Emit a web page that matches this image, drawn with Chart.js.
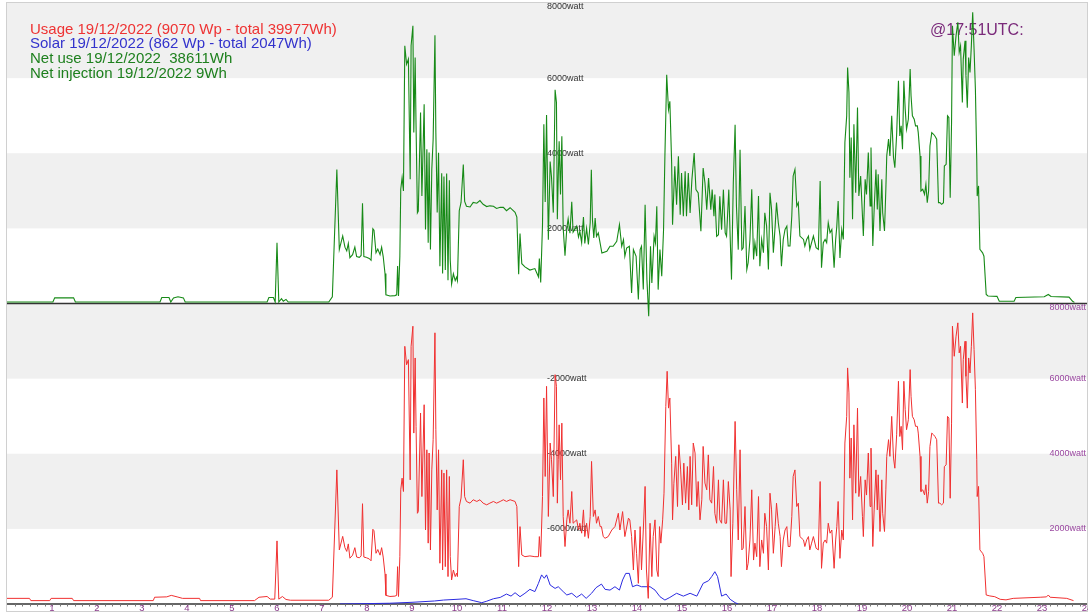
<!DOCTYPE html>
<html>
<head>
<meta charset="utf-8">
<title>Energy 19/12/2022</title>
<style>
  html, body { margin: 0; padding: 0; background: #fff; }
  canvas { display: block; }
</style>
<script src="https://cdn.jsdelivr.net/npm/chart.js@4.4.0/dist/chart.umd.min.js"></script>
</head>
<body>
<canvas id="energy" width="1092" height="616"></canvas>
<script>
// --- readings (hour of day, watt) ---

// night: only standby load
const nightUseHours = [0, 0.5, 0.53, 0.95, 0.98, 1.45, 1.48, 3.25, 3.28, 3.55, 3.65, 3.78, 3.9, 4.28, 4.3,
  5.5, 5.6, 5.78, 5.85, 5.95, 6.0, 6.04, 6.12, 6.2, 6.3, 7.15]
const nightUse = [150, 150, 90, 90, 150, 150, 90, 90, 180, 190, 230, 190, 150, 150, 90,
  90, 180, 200, 130, 130, 1680, 130, 200, 120, 100, 100]
const nightNetHours = [0, 1.02, 1.06, 1.48, 1.52, 3.4, 3.44, 3.6, 3.64, 3.7, 3.8, 3.92, 3.96,
  5.78, 5.82, 5.92, 5.96, 6.0, 6.04, 6.1, 6.14, 6.2, 6.25, 7.15]
const nightNet = [40, 40, 150, 150, 40, 40, 160, 160, 40, 150, 180, 150, 40,
  40, 160, 160, 40, 1620, 40, 130, 60, 110, 40, 40]

// morning, no sun yet: usage and net use are the same
const morningHours = [7.23, 7.33, 7.385, 7.46, 7.51, 7.55, 7.585, 7.62, 7.68, 7.73, 7.77, 7.83, 7.87, 7.9, 7.93,
  7.99, 8.05, 8.09, 8.13, 8.155, 8.2, 8.24, 8.29, 8.325, 8.36, 8.4, 8.42, 8.51, 8.62, 8.66,
  8.68, 8.7, 8.73, 8.75, 8.78, 8.81, 8.84, 8.88, 8.92, 8.96, 8.98, 9.02, 9.04, 9.07, 9.09,
  9.12, 9.14, 9.19, 9.22, 9.27, 9.3, 9.33, 9.36, 9.38, 9.41, 9.44, 9.47]
const morningWatts = [180, 3570, 1440, 1800, 1500, 1400, 1600, 1220, 1300, 1500, 1250, 1230, 1280, 2670, 1250,
  1230, 1200, 1150, 1990, 1950, 1350, 1450, 1300, 1500, 1250, 800, 230, 200, 210, 230,
  995, 200, 1260, 3040, 3350, 2995, 6860, 6370, 6505, 3305, 6860, 7395, 4550, 6550, 4730,
  2415, 2460, 5085, 2860, 5305, 1970, 4105, 1620, 4020, 1440, 3570, 4375]

// late morning / noon
const dayHours = [9.51, 9.53, 9.56, 9.59, 9.62, 9.66, 9.68, 9.71, 9.74, 9.77, 9.8, 9.83, 9.85, 9.88, 9.92, 9.96, 9.99,
  10.01, 10.05, 10.09, 10.14, 10.17, 10.21, 10.29, 10.36, 10.44, 10.51, 10.58, 10.66, 10.73, 10.81, 10.88, 10.96,
  11.03, 11.1, 11.18, 11.29, 11.33, 11.37, 11.4, 11.44, 11.51, 11.62, 11.73, 11.81, 11.83, 11.86,
  11.9, 11.93, 11.96, 11.99,
  12.03, 12.07, 12.1, 12.14, 12.18, 12.21, 12.23, 12.25, 12.27, 12.3, 12.33, 12.36, 12.4, 12.44, 12.47, 12.51,
  12.55, 12.58, 12.66, 12.7, 12.73, 12.77, 12.81, 12.84, 12.88, 12.92]
const dayUse = [7220, 4640, 2505, 4105, 1085, 3570, 905, 3485, 995, 3570, 730, 3395, 1260, 640, 905, 730, 820,
  730, 2595, 2820, 3840, 2860, 2730, 2685, 2775, 2730, 2775, 2685, 2640, 2685, 2730, 2685, 2730,
  2775, 2730, 2775, 2730, 2595, 995, 2060, 1305, 1260, 1280, 1260, 1260, 1795, 1260,
  2860, 5485, 3395, 5795,
  2330, 4285, 3840, 2860, 6105, 5795, 2685, 3840, 4770, 3305, 4815, 2330, 1530, 2240, 2505, 2150,
  2995, 2150, 2240, 1970, 2150, 1885, 2505, 1795, 2150, 1750]
const dayNet = [7140, 4560, 2420, 4010, 990, 3470, 800, 3380, 890, 3460, 620, 3280, 1150, 520, 790, 610, 700,
  610, 2470, 2690, 3700, 2720, 2590, 2570, 2690, 2670, 2740, 2640, 2580, 2600, 2590, 2530, 2560,
  2560, 2470, 2550, 2430, 2300, 780, 1860, 1060, 975, 890, 930, 710, 1200, 560,
  2090, 4770, 2700, 5020,
  1700, 3780, 3370, 2420, 5690, 5350, 2240, 3380, 4320, 2900, 4450, 2000, 1270, 2000, 2250, 1870,
  2710, 1900, 2060, 1770, 1920, 1620, 2300, 1600, 2000, 1570]

// afternoon
const afternoonUseHours = [12.96, 12.99, 13.03, 13.07, 13.1, 13.14, 13.18, 13.21, 13.25, 13.29,
  13.36, 13.44, 13.51, 13.585, 13.62, 13.68, 13.73, 13.81, 13.84, 13.88, 13.92, 13.955, 13.99,
  14.03, 14.07, 14.1, 14.14, 14.18, 14.21, 14.25, 14.29, 14.33, 14.36, 14.4, 14.44, 14.47, 14.5,
  14.53, 14.57, 14.6, 14.64, 14.67, 14.7, 14.73, 14.77, 14.79, 14.82, 14.86, 14.9, 14.93, 14.97,
  15.01, 15.04, 15.08, 15.12, 15.15,
  15.18, 15.215, 15.25, 15.29, 15.33, 15.36, 15.4, 15.44, 15.47, 15.51, 15.55, 15.585, 15.62, 15.66,
  15.7, 15.73, 15.77, 15.81, 15.84, 15.88, 15.92, 15.956, 15.99, 16.03, 16.07, 16.09, 16.13, 16.18,
  16.215, 16.25, 16.29, 16.33]
const afternoonUse = [2330, 3795, 2330, 2505, 2150, 2330, 2060, 2060, 1795, 1750,
  1795, 1970, 2060, 2415, 1970, 2460, 1795, 2285, 2240, 1795, 905, 1970, 1350,
  550, 2060, 905, 1970, 3130, 905, 150, 2150, 730, 1795, 2240, 905, 730, 2060,
  1620, 2240, 2950, 5260, 6195, 5215, 5485, 3750, 2240, 3215, 3930, 2595, 4240, 3570,
  2640, 3750, 2685, 3660, 2505,
  3930, 2640, 4285, 4020, 2595, 3260, 2240, 2775, 4195, 3220, 3040, 3970, 2775, 2685,
  3660, 2415, 2150, 3305, 2240, 2150, 3305, 2150, 2150, 3260, 2505, 730, 2150, 4860,
  3040, 1705, 4105, 1440]
const afternoonNetHours = [12.96, 12.985, 13.01, 13.04, 13.07, 13.1, 13.14, 13.22, 13.33, 13.4,
  13.47, 13.55, 13.61, 13.66, 13.7, 13.73, 13.77, 13.83, 13.88, 13.92,
  13.98, 14.03, 14.07, 14.1, 14.14, 14.18, 14.22, 14.26, 14.3, 14.33,
  14.38, 14.41, 14.44, 14.47, 14.51, 14.55, 14.59, 14.62, 14.66, 14.7,
  14.73, 14.77, 14.79, 14.84, 14.88, 14.92, 14.96, 14.99, 15.03, 15.07,
  15.1, 15.14, 15.18, 15.22, 15.27, 15.31, 15.36, 15.42, 15.47, 15.51,
  15.55, 15.59, 15.64, 15.67, 15.71, 15.73, 15.77, 15.81, 15.84, 15.88,
  15.92, 15.96, 15.99, 16.04, 16.07, 16.1, 16.14, 16.18, 16.21, 16.25,
  16.29, 16.33]
const afternoonNet = [2150, 3560, 2230, 1745, 2277, 1789, 1878, 1345, 1390, 1523,
  1523, 1656, 2100, 1523, 1700, 1257, 1478, 1523, 281, 1434,
  1257, 104, 1434, 1523, 370, 2631, 636, -340, 1523, 547,
  1789, 1611, 2587, 370, 1434, 725, 1966, 3918, 6091, 5160,
  5381, 3740, 2100, 3651, 2631, 3918, 2365, 3474, 2321, 3518,
  2321, 3474, 2410, 3297, 4006, 3031, 2942, 1922, 3607, 3208,
  2498, 3341, 2498, 3031, 2321, 2898, 1789, 1833, 2853, 1966,
  3031, 1878, 1789, 3031, 1789, 636, 3208, 4760, 2587, 1434,
  4095, 1434]

// evening, sun gone: usage and net use are the same again
const eveningHours = [16.36, 16.4, 16.44, 16.47, 16.51, 16.55, 16.59, 16.62, 16.66, 16.7, 16.73, 16.77, 16.81,
  16.84, 16.88, 16.92, 16.955, 16.99,
  17.03, 17.07, 17.1, 17.14, 17.18, 17.21, 17.25, 17.29, 17.33, 17.36, 17.4, 17.44, 17.47, 17.51, 17.55,
  17.585, 17.62, 17.7, 17.73, 17.77, 17.81, 17.84, 17.88, 17.92, 17.98,
  18.03, 18.07, 18.1, 18.14, 18.18, 18.215, 18.25, 18.29, 18.33, 18.38, 18.415, 18.44, 18.47, 18.51,
  18.55, 18.585, 18.62, 18.66, 18.68, 18.71, 18.73, 18.76, 18.79, 18.82, 18.86, 18.9, 18.93, 18.97,
  19.01, 19.03, 19.07, 19.1, 19.14, 19.18, 19.2, 19.24, 19.27, 19.31, 19.34, 19.36, 19.4, 19.44, 19.46,
  19.5, 19.53, 19.55, 19.59, 19.62, 19.66, 19.7, 19.73, 19.77, 19.81, 19.84, 19.87, 19.9, 19.93, 19.96, 19.99,
  20.03, 20.07, 20.09, 20.12, 20.16, 20.19, 20.23, 20.25, 20.29, 20.31, 20.35, 20.39, 20.42, 20.45, 20.48,
  20.51, 20.55, 20.59, 20.62, 20.66, 20.7, 20.73, 20.77, 20.81, 20.83, 20.87, 20.9, 20.93, 20.96, 20.99,
  21.01, 21.05, 21.09, 21.13, 21.16, 21.19, 21.23, 21.25, 21.29, 21.31, 21.34, 21.37, 21.4, 21.43, 21.46,
  21.49, 21.52, 21.55, 21.56, 21.59, 21.62, 21.68, 21.71]
const eveningWatts = [1485, 2595, 905, 1085, 1705, 3040, 1170, 1620, 1260, 2860, 995, 1705, 1350,
  2415, 2060, 905, 2950, 2505,
  1350, 2060, 2685, 2150, 1795, 995, 1705, 1970, 2060, 1530, 1530, 2330, 3395, 3570, 2595,
  2685, 1795, 1705, 1530, 1705, 1795, 1440, 1620, 1795, 1485,
  1440, 3260, 950, 1620, 1705, 1620, 2150, 1885, 1970, 950, 1705, 2060, 2730, 1215,
  1970, 1705, 4285, 4995, 6285, 5620, 3350, 4420, 2240, 4770, 2950, 5215, 2860, 3395,
  2330, 1795, 3305, 2900, 4020, 2595, 4150, 1530, 2505, 3570, 2505, 3440, 1930, 3305, 2415,
  1930, 3040, 3930, 4375, 3930, 4995, 3885, 3615, 4505, 5930, 4460, 4730, 4105, 5930, 5175, 4640,
  4905, 6240, 5530, 4995, 4905, 4730, 4730, 4550, 3930, 2995, 3040, 2905, 3175, 2685, 2995,
  4195, 4550, 4505, 4460, 4375, 2685, 2685, 2640, 2685, 3660, 3705, 4995, 4950, 2815, 4815,
  7395, 6595, 7130, 7485, 6685, 6860, 5350, 6505, 6995, 6060, 5215, 6550, 6150, 6860, 7750,
  6775, 5705, 3840, 2860, 3130, 1440, 1350, 1260]

// late evening
const lateUseHours = [21.76, 21.84, 21.95, 22.07, 22.2, 22.36, 22.96, 23.1, 23.14, 23.18, 23.55, 23.7]
const lateUse = [240, 215, 195, 125, 110, 150, 180, 190, 240, 180, 150, 90]
const lateNetHours = [21.76, 21.8, 22.0, 22.05, 22.38, 22.42, 23.05, 23.14, 23.2, 23.6, 23.68, 23.72]
const lateNet = [240, 200, 190, 60, 60, 160, 180, 240, 185, 170, 60, 30]

// solar production
const solarHours = [7.4, 8.0, 8.5, 9.0, 9.5, 9.7, 10.0, 10.2, 10.36, 10.55, 10.65, 10.81, 10.96, 11.1, 11.2,
  11.29, 11.4, 11.51, 11.62, 11.73, 11.81, 11.88, 11.94, 11.99, 12.07, 12.18, 12.25, 12.36, 12.44, 12.55,
  12.66, 12.77, 12.87, 12.99, 13.09, 13.21, 13.29, 13.4, 13.51, 13.61, 13.68, 13.75, 13.83, 13.9, 14.0,
  14.1, 14.29, 14.4, 14.51, 14.62, 14.73, 14.88, 15.03, 15.18, 15.33, 15.47, 15.59, 15.66, 15.73, 15.79,
  15.83, 15.88, 15.98, 16.07, 16.18, 16.25]
const solar = [0, 10, 20, 45, 80, 105, 125, 140, 90, 35, 70, 140, 175, 265, 210,
  300, 195, 285, 390, 330, 550, 775, 685, 775, 505, 415, 460, 330, 240, 285,
  175, 265, 150, 285, 435, 530, 390, 370, 460, 370, 640, 815, 815, 460, 505,
  460, 460, 370, 195, 105, 175, 285, 210, 285, 210, 550, 620, 730, 860, 730,
  505, 210, 265, 125, 35, 0]

const useHours = [...nightUseHours, ...morningHours, ...dayHours, ...afternoonUseHours, ...eveningHours, ...lateUseHours]
const usage = [...nightUse, ...morningWatts, ...dayUse, ...afternoonUse, ...eveningWatts, ...lateUse]
const netHours = [...nightNetHours, ...morningHours, ...dayHours, ...afternoonNetHours, ...eveningHours, ...lateNetHours]
const netUse = [...nightNet, ...morningWatts, ...dayNet, ...afternoonNet, ...eveningWatts, ...lateNet]

// --- axes and texts ---
const hourLabels = ['1', '2', '3', '4', '5', '6', '7', '8', '9', '10', '11', '12',
  '13', '14', '15', '16', '17', '18', '19', '20', '21', '22', '23', '24']
const bands = [[8000, 6000], [4000, 2000]]
const midTicks = [8000, 6000, 4000, 2000, -2000, -4000, -6000]
const rightTicks = [8000, 6000, 4000, 2000]
const legendLines = [
  ['Usage 19/12/2022 (9070 Wp - total 39977Wh)', '#ee3333'],
  ['Solar 19/12/2022 (862 Wp - total 2047Wh)', '#3333cc'],
  ['Net use 19/12/2022  38611Wh', '#1e801e'],
  ['Net injection 19/12/2022 9Wh', '#1e801e'],
]
const stamp = '@17:51UTC:'

const FONT = "Arial, 'Liberation Sans', sans-serif"
const pts = (xs, ys) => xs.map((h, i) => ({ x: h, y: ys[i] }))

const panelPlugin = {
  id: 'panels',
  beforeDatasetsDraw(chart) {
    const { ctx, chartArea: a } = chart
    const { x, yTop, yBot } = chart.scales
    const w = a.right - a.left
    ctx.save()

    // grey bands in both panels
    ctx.fillStyle = '#f0f0f0'
    for (const [hi, lo] of bands) {
      for (const s of [yTop, yBot]) {
        const t = s.getPixelForValue(hi)
        ctx.fillRect(a.left, t, w, s.getPixelForValue(lo) - t)
      }
    }

    // frame, goes on below the hour labels
    ctx.strokeStyle = '#d0d0d0'
    ctx.lineWidth = 1
    ctx.strokeRect(a.left - 0.5, a.top - 0.5, w + 1, a.bottom - a.top + 8)

    // zero lines
    ctx.strokeStyle = '#333'
    ctx.lineWidth = 1.5
    for (const py of [yTop.getPixelForValue(0), yBot.getPixelForValue(0)]) {
      ctx.beginPath()
      ctx.moveTo(a.left, py)
      ctx.lineTo(a.right, py)
      ctx.stroke()
    }

    // small ticks under the time axis, every 10 minutes
    ctx.strokeStyle = '#777'
    ctx.lineWidth = 1
    ctx.beginPath()
    for (let m = 10; m < 24 * 60; m += 10) {
      const px = Math.round(x.getPixelForValue(m / 60)) + 0.5
      ctx.moveTo(px, a.bottom)
      ctx.lineTo(px, a.bottom + 2.5)
    }
    ctx.stroke()

    // hour labels, cut at the right border
    ctx.save()
    ctx.beginPath()
    ctx.rect(0, a.bottom, a.right + 1, 20)
    ctx.clip()
    ctx.font = '9.5px ' + FONT
    ctx.fillStyle = '#8c3c8c'
    ctx.textAlign = 'center'
    ctx.textBaseline = 'middle'
    hourLabels.forEach((t, i) => ctx.fillText(t, x.getPixelForValue(i + 1), a.bottom + 4.5))
    ctx.restore()

    // watt labels in the middle (top panel axis) and on the right (bottom panel axis)
    ctx.font = '9px ' + FONT
    ctx.textBaseline = 'middle'
    ctx.textAlign = 'left'
    ctx.fillStyle = '#333'
    for (const v of midTicks) {
      const py = yTop.getPixelForValue(v) + (v === 8000 ? 4 : 0)
      ctx.fillText(v + 'watt', x.getPixelForValue(12), py)
    }
    ctx.textAlign = 'right'
    ctx.fillStyle = '#9a48a0'
    for (const v of rightTicks) {
      const py = yBot.getPixelForValue(v) + (v === 8000 ? 4 : 0)
      ctx.fillText(v + 'watt', a.right - 1, py)
    }

    // legend text
    ctx.font = '15px ' + FONT
    ctx.textAlign = 'left'
    ctx.textBaseline = 'alphabetic'
    legendLines.forEach(([t, c], i) => {
      ctx.fillStyle = c
      ctx.fillText(t, 30, 33.5 + i * 14.7)
    })

    ctx.font = '16px ' + FONT
    ctx.fillStyle = '#7a2a7a'
    ctx.fillText(stamp, 930, 35)
    ctx.restore()
  },
}

new Chart(document.getElementById('energy'), {
  type: 'line',
  data: {
    datasets: [
      { label: 'Net use', data: pts(netHours, netUse), yAxisID: 'yTop', borderColor: '#178a17', borderWidth: 1.1 },
      { label: 'Usage', data: pts(useHours, usage), yAxisID: 'yBot', borderColor: '#f03030', borderWidth: 1 },
      { label: 'Solar', data: pts(solarHours, solar), yAxisID: 'yBot', borderColor: '#2a2ae0', borderWidth: 1 },
    ],
  },
  options: {
    responsive: false,
    animation: false,
    layout: { padding: { left: 7, top: 3, right: 5, bottom: 12 } },
    elements: { point: { radius: 0 }, line: { tension: 0 } },
    plugins: { legend: { display: false }, tooltip: { enabled: false } },
    scales: {
      x: { type: 'linear', min: 0, max: 24, display: false },
      yTop: { type: 'linear', min: -8000, max: 8000, display: false },
      yBot: { type: 'linear', min: 0, max: 16000, display: false },
    },
  },
  plugins: [panelPlugin],
})
</script>
</body>
</html>
